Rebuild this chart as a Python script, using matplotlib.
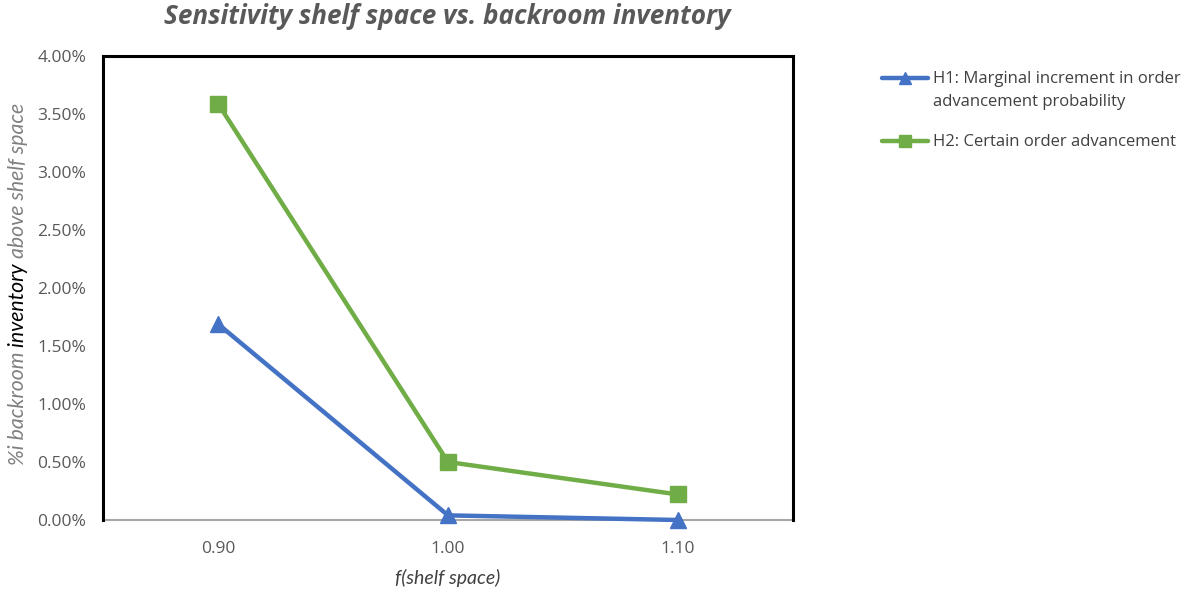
import matplotlib
matplotlib.use("Agg")
import matplotlib.pyplot as plt
from matplotlib.lines import Line2D
from matplotlib.ticker import PercentFormatter

# Data
categories = ["0.90", "1.00", "1.10"]
h1_values = [1.69, 0.04, 0.00]   # % backroom inventory
h2_values = [3.59, 0.50, 0.22]
series_labels = ["H1: Marginal increment in order\nadvancement probability",
                 "H2: Certain order advancement"]

FONT = "Open Sans"
LABEL_FONT = "Lato"
GREY = "#595959"
BLUE = "#4472C4"
GREEN = "#70AD47"
W, H = 1189, 592

fig = plt.figure(figsize=(W / 100, H / 100), dpi=100)
ax = fig.add_axes([103 / W, 1 - 520 / H, 690 / W, 464 / H])

x = list(range(len(categories)))
styles = [dict(color=BLUE, marker="^", markersize=12),
          dict(color=GREEN, marker="s", markersize=11)]
for vals, st in zip([h1_values, h2_values], styles):
    ax.plot(x, vals, lw=3.2, solid_capstyle="round", zorder=3,
            clip_on=False, **st)

ax.set_xlim(-0.5, len(categories) - 0.5)
ax.set_ylim(0, 4.0)
ax.set_yticks([i * 0.5 for i in range(9)])
ax.yaxis.set_major_formatter(PercentFormatter(decimals=2))
ax.set_xticks(x)
ax.set_xticklabels(categories)
ax.tick_params(length=0, labelsize=12.5, labelcolor=GREY)
for lbl in ax.get_xticklabels() + ax.get_yticklabels():
    lbl.set_fontfamily(FONT)
ax.tick_params(axis="x", pad=15)
ax.tick_params(axis="y", pad=12)

for side in ["left", "top", "right"]:
    ax.spines[side].set_color("black")
    ax.spines[side].set_linewidth(2.2)
ax.spines["bottom"].set_color("#a6a6a6")
ax.spines["bottom"].set_linewidth(1.5)
ax.spines["bottom"].set_zorder(2)

# Title
fig.text(447 / W, 1 - 17 / H, "Sensitivity shelf space vs. backroom inventory",
         ha="center", va="center", fontsize=18.8, fontweight="bold",
         fontstyle="italic", color=GREY, family=FONT)

# X axis label
ax.set_xlabel("f(shelf space)", fontsize=14, fontstyle="italic", color="#404040",
              family=LABEL_FONT, labelpad=9)

# Y axis label made of three pieces with different colours
pieces = [("%i backroom ", "#808080"), ("inventory ", "#000000"),
          ("above shelf space", "#808080")]
fig.canvas.draw()
renderer = fig.canvas.get_renderer()
label_x = 18 / W
label_len = 365      # pixels along the axis
label_center = 284   # pixels from the top
size = 14
texts = []
for s, c in pieces:
    t = fig.text(label_x, 0, s, rotation=90, ha="center", va="bottom",
                 fontsize=size, fontstyle="italic", color=c, family=LABEL_FONT)
    texts.append(t)
total = sum(t.get_window_extent(renderer).height for t in texts)
for t in texts:
    t.set_fontsize(size * label_len / total)
heights = [t.get_window_extent(renderer).height for t in texts]
y = fig.bbox.height * (1 - label_center / H) - sum(heights) / 2
for t, h in zip(texts, heights):
    t.set_position((label_x, y / fig.bbox.height))
    y += h

# Legend: handle sits beside the first line of each entry
legend_rows = [78, 141]
for label, st, row in zip(series_labels, styles, legend_rows):
    yf = 1 - row / H
    fig.add_artist(Line2D([882 / W, 928 / W], [yf, yf], lw=3.2,
                          color=st["color"], solid_capstyle="round",
                          transform=fig.transFigure))
    fig.add_artist(Line2D([905 / W], [yf], marker=st["marker"],
                          markersize=8, color=st["color"], lw=0,
                          transform=fig.transFigure))
    fig.text(933 / W, yf + 7 / H, label, ha="left", va="top", fontsize=12,
             color="#404040", family=FONT, linespacing=1.6)

fig.savefig("out.png", dpi=100)
